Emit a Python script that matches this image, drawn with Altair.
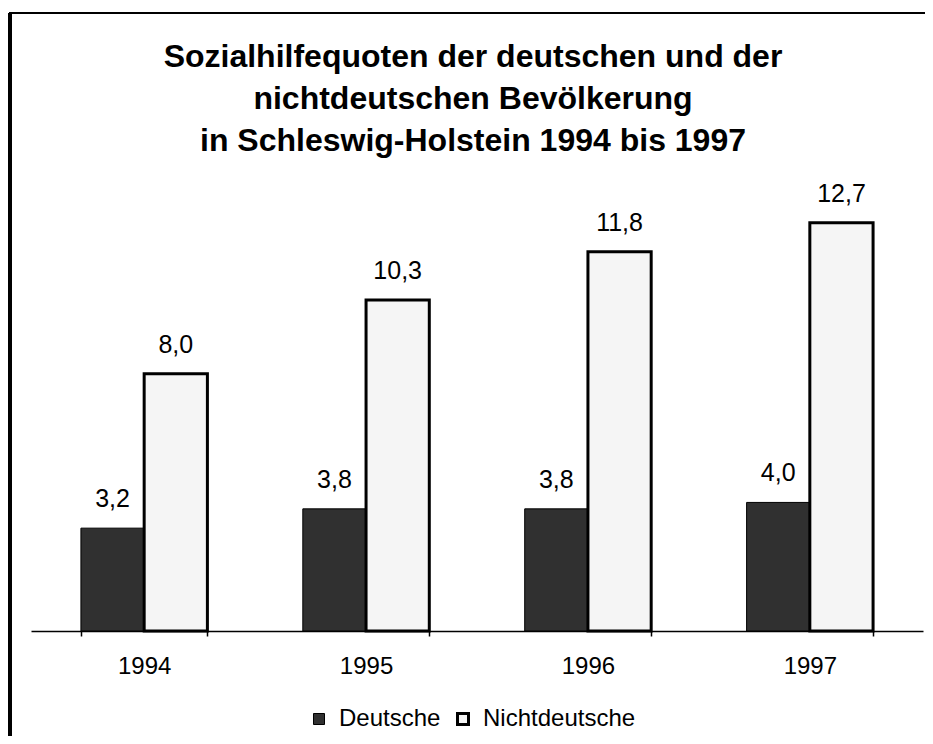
import altair as alt
import pandas as pd

years = ["1994", "1995", "1996", "1997"]
deutsche = [3.2, 3.8, 3.8, 4.0]
nichtdeutsche = [8.0, 10.3, 11.8, 12.7]
series = ["Deutsche", "Nichtdeutsche"]
title_lines = [
    "Sozialhilfequoten der deutschen und der",
    "nichtdeutschen Bevölkerung",
    "in Schleswig-Holstein 1994 bis 1997",
]

rows = []
for i, y in enumerate(years):
    rows.append({"Jahr": y, "Gruppe": series[0], "Quote": deutsche[i]})
    rows.append({"Jahr": y, "Gruppe": series[1], "Quote": nichtdeutsche[i]})
df = pd.DataFrame(rows)

FONT = "Liberation Sans"
W, H = 892, 450

base = alt.Chart(df).encode(
    x=alt.X("Jahr:N", sort=years,
            scale=alt.Scale(paddingInner=0.43, paddingOuter=0.225),
            axis=alt.Axis(title=None, labelAngle=0, labelFont=FONT, labelFontSize=24,
                          labelColor="black", labelPadding=18, domainColor="black",
                          domainWidth=1.5, tickColor="black", tickSize=5, tickWidth=1.5,
                          tickBand="extent", grid=False)),
    xOffset=alt.XOffset("Gruppe:N", sort=series,
                        scale=alt.Scale(paddingInner=0, paddingOuter=0)),
    y=alt.Y("Quote:Q", scale=alt.Scale(domain=[0, 14], nice=False), axis=None),
)

bars = base.mark_bar(stroke="black").encode(
    color=alt.Color("Gruppe:N", sort=series,
                    scale=alt.Scale(domain=series, range=["#303030", "#f5f5f5"]),
                    legend=alt.Legend(title=None, orient="none", direction="horizontal",
                                      legendX=276, legendY=526, symbolType="square",
                                      symbolSize=121, symbolStrokeColor="black",
                                      symbolStrokeWidth=1.5, symbolOpacity=1,
                                      labelFont=FONT, labelFontSize=24,
                                      labelColor="black", columnPadding=10,
                                      labelOffset=8)),
    strokeWidth=alt.StrokeWidth("Gruppe:N", sort=series,
                                scale=alt.Scale(domain=series, range=[1, 3]),
                                legend=None),
)

labels = base.transform_calculate(
    label="replace(format(datum.Quote, '.1f'), '.', ',')"
).mark_text(font=FONT, fontSize=25, color="black", dy=-29).encode(text="label:N")

title = alt.Chart(pd.DataFrame({"t": ["\n".join(title_lines)]})).mark_text(
    font=FONT, fontSize=32, fontWeight="bold", color="black", lineBreak="\n",
    lineHeight=42, baseline="middle", align="center"
).encode(x=alt.value(W / 2 - 4), y=alt.value(-124), text="t:N")

frame_left = alt.Chart(df).mark_rule(color="black", strokeWidth=3).encode(
    x=alt.value(-21), y=alt.value(-168), y2=alt.value(560))
frame_top = alt.Chart(df).mark_rule(color="black", strokeWidth=2).encode(
    x=alt.value(-22), x2=alt.value(900), y=alt.value(-168))

chart = alt.layer(bars, labels, title, frame_left, frame_top).properties(
    width=W, height=H,
    autosize=alt.AutoSizeParams(type="none"),
    padding={"left": 23, "top": 173, "right": 2, "bottom": 105},
).configure_view(stroke=None)

chart.save("out.html", embed_options={"renderer": "svg", "actions": False})
